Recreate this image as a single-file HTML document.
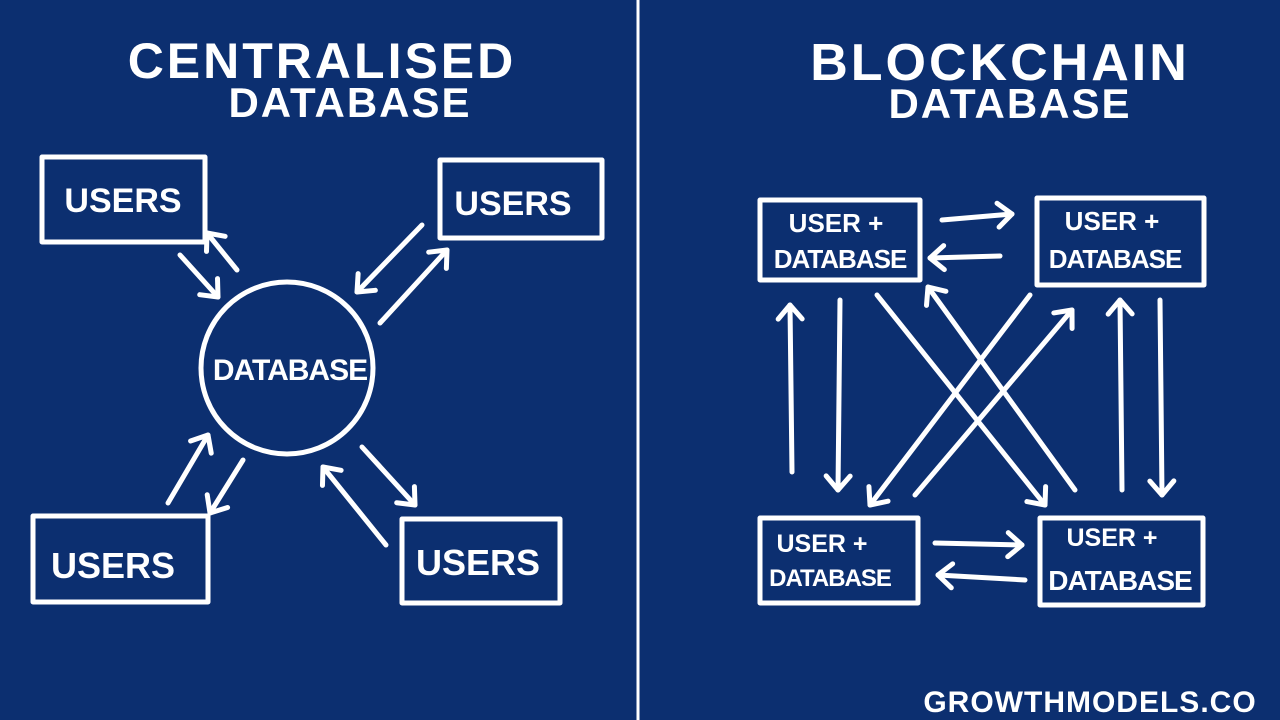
<!DOCTYPE html>
<html><head><meta charset="utf-8"><style>
html,body{margin:0;padding:0;background:#0c2f70;}
svg{display:block}
text{font-family:"Liberation Sans",sans-serif;fill:#fff;text-anchor:middle;}
</style></head><body>
<svg width="1280" height="720" viewBox="0 0 1280 720" xmlns="http://www.w3.org/2000/svg">
<defs>
<marker id="a" markerUnits="userSpaceOnUse" markerWidth="40" markerHeight="40" refX="20" refY="20" orient="auto">
<path d="M6,8 L20,20 L6,32" fill="none" stroke="#fff" stroke-width="5" stroke-linecap="round" stroke-linejoin="round"/>
</marker>
</defs>
<rect width="1280" height="720" fill="#0c2f70"/>
<line x1="638" y1="0" x2="638" y2="720" stroke="#fff" stroke-width="3"/>
<g fill="none" stroke="#fff" stroke-width="5" stroke-linecap="round" stroke-linejoin="round">
<rect x="42" y="157" width="163" height="85"/>
<rect x="440" y="160" width="162" height="78"/>
<rect x="33" y="516" width="175" height="86"/>
<rect x="402" y="519" width="158" height="84"/>
<circle cx="287" cy="368" r="86"/>
<rect x="760" y="200" width="160" height="80"/>
<rect x="1037" y="198" width="167" height="87"/>
<rect x="760" y="518" width="158" height="85"/>
<rect x="1040" y="518" width="163" height="87"/>
</g>
<g stroke="#fff" stroke-width="5" stroke-linecap="round" marker-end="url(#a)">
<line x1="180" y1="255" x2="218" y2="297"/>
<line x1="237" y1="270" x2="207" y2="233"/>
<line x1="422" y1="225" x2="357" y2="292"/>
<line x1="380" y1="323" x2="447" y2="250"/>
<line x1="168" y1="503" x2="208" y2="435"/>
<line x1="243" y1="460" x2="210" y2="513"/>
<line x1="386" y1="545" x2="323" y2="467"/>
<line x1="362" y1="447" x2="415" y2="505"/>
<line x1="942" y1="220" x2="1012" y2="214"/>
<line x1="1000" y1="256" x2="930" y2="258"/>
<line x1="935" y1="543" x2="1022" y2="545"/>
<line x1="1025" y1="580" x2="938" y2="575"/>
<line x1="792" y1="472" x2="790" y2="305"/>
<line x1="840" y1="300" x2="838" y2="490"/>
<line x1="1122" y1="490" x2="1120" y2="300"/>
<line x1="1160" y1="300" x2="1162" y2="495"/>
<line x1="877" y1="295" x2="1045" y2="505"/>
<line x1="1075" y1="490" x2="928" y2="287"/>
<line x1="1030" y1="295" x2="870" y2="505"/>
<line x1="915" y1="495" x2="1072" y2="310"/>
</g>
<g font-weight="bold">
<text x="322" y="78" font-size="50" letter-spacing="3">CENTRALISED</text>
<text x="350" y="117" font-size="42" letter-spacing="2">DATABASE</text>
<text x="1000" y="80" font-size="52" letter-spacing="3">BLOCKCHAIN</text>
<text x="1010" y="118" font-size="42" letter-spacing="2">DATABASE</text>
<text x="123" y="212" font-size="34">USERS</text>
<text x="513" y="215" font-size="34">USERS</text>
<text x="113" y="578" font-size="36">USERS</text>
<text x="478" y="575" font-size="36">USERS</text>
<text x="290" y="380" font-size="30" letter-spacing="-1">DATABASE</text>
<text x="836" y="232" font-size="26">USER +</text>
<text x="840" y="268" font-size="26" letter-spacing="-1">DATABASE</text>
<text x="1112" y="230" font-size="26">USER +</text>
<text x="1115" y="268" font-size="26" letter-spacing="-1">DATABASE</text>
<text x="822" y="552" font-size="25">USER +</text>
<text x="830" y="586" font-size="24" letter-spacing="-1">DATABASE</text>
<text x="1112" y="546" font-size="25">USER +</text>
<text x="1120" y="590" font-size="28" letter-spacing="-1">DATABASE</text>
<text x="1090" y="712" font-size="30" letter-spacing="1">GROWTHMODELS.CO</text>
</g>
</svg>
</body></html>
